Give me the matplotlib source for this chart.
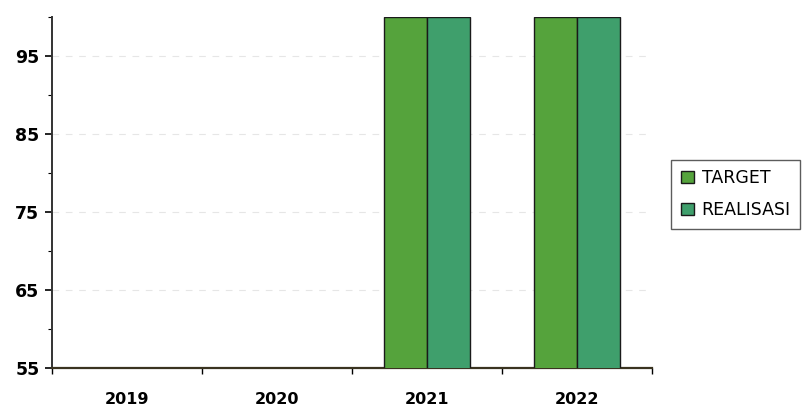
import matplotlib
matplotlib.use("Agg")
import matplotlib.pyplot as plt
from matplotlib.ticker import MultipleLocator, FixedLocator
import numpy as np

years = ["2019", "2020", "2021", "2022"]
target = [0, 0, 100, 100]
realisasi = [0, 0, 100, 100]
series_names = ["TARGET", "REALISASI"]
colors = ["#55a33c", "#3f9f6c"]
yticks = [55, 65, 75, 85, 95]

fig = plt.figure(figsize=(8.02, 4.13), dpi=100)
ax = fig.add_axes([0.0648, 0.109, 0.813 - 0.0648, 0.959 - 0.109])

x = np.arange(len(years)) + 0.5
w = 0.287
ax.bar(x - w / 2, target, width=w, color=colors[0], edgecolor="#1a1a1a",
       linewidth=1.0, label=series_names[0], zorder=3)
ax.bar(x + w / 2, realisasi, width=w, color=colors[1], edgecolor="#1a1a1a",
       linewidth=1.0, label=series_names[1], zorder=3)

ax.set_ylim(55, 100)
ax.set_xlim(0, 4)
ax.set_yticks(yticks)
ax.yaxis.set_minor_locator(MultipleLocator(5))
ax.tick_params(axis="y", which="major", length=5, width=1.2, labelsize=12.5, pad=4)
ax.tick_params(axis="y", which="minor", length=3, width=0.8)
for lab in ax.get_yticklabels():
    lab.set_fontweight("bold")

ax.xaxis.set_major_locator(FixedLocator([0, 1, 2, 3, 4]))
ax.xaxis.set_minor_locator(FixedLocator(list(x)))
ax.set_xticklabels([], minor=False)
ax.set_xticklabels(years, minor=True, fontweight="bold", fontsize=11.5)
ax.tick_params(axis="x", which="major", length=4, width=1.0, direction="out")
ax.tick_params(axis="x", which="minor", length=0, pad=17)

ax.grid(axis="y", which="major", linestyle=(0, (6, 6)), color="#e6e6e6",
        linewidth=0.8, zorder=0)

for s in ["top", "right"]:
    ax.spines[s].set_visible(False)
ax.spines["left"].set_linewidth(1.4)
ax.spines["left"].set_color("#333333")
ax.spines["bottom"].set_linewidth(1.6)
ax.spines["bottom"].set_color("#3a3320")

leg = fig.legend(loc="center left", bbox_to_anchor=(0.837, 0.53), fontsize=12.5,
                 frameon=True, fancybox=False, edgecolor="#333333",
                 handlelength=0.75, handleheight=0.75, handletextpad=0.45,
                 borderpad=0.55, labelspacing=0.8, borderaxespad=0)
leg.get_frame().set_linewidth(1.0)

fig.savefig("out.png", dpi=100)
